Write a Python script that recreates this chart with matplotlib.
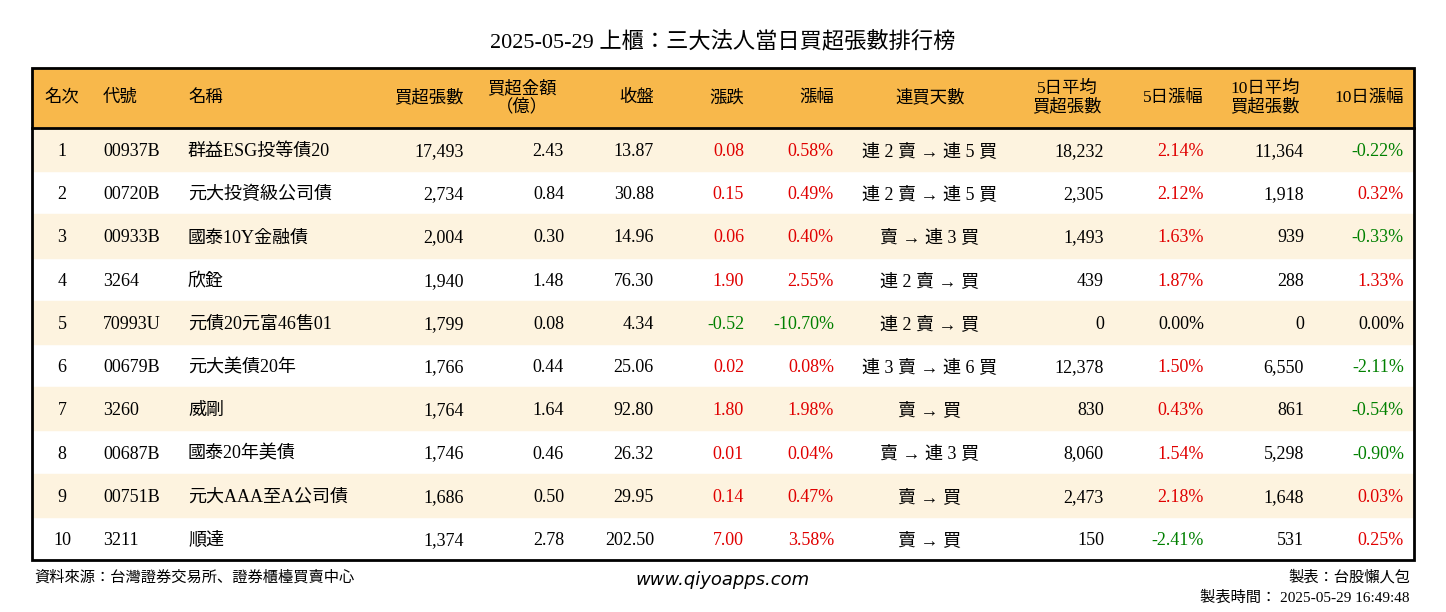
import matplotlib
matplotlib.use("Agg")
import matplotlib.pyplot as plt
from matplotlib import font_manager
from matplotlib.patches import Rectangle

cjk_names = sorted({f.name for f in font_manager.fontManager.ttflist if "CJK" in f.name})
cjk = next((n for n in ["Noto Sans CJK TC", "Noto Sans CJK JP", "Noto Sans CJK SC"] if n in cjk_names),
           cjk_names[0] if cjk_names else "DejaVu Sans")
plt.rcParams["font.family"] = ["Liberation Serif", cjk]

title = "2025-05-29 上櫃：三大法人當日買超張數排行榜"
headers = ["名次", "代號", "名稱", "買超張數", "買超金額\n（億）", "收盤", "漲跌", "漲幅",
           "連買天數", "5日平均\n買超張數", "5日漲幅", "10日平均\n買超張數", "10日漲幅"]

ranks = [1, 2, 3, 4, 5, 6, 7, 8, 9, 10]
codes = ["00937B", "00720B", "00933B", "3264", "70993U", "00679B", "3260", "00687B", "00751B", "3211"]
names = ["群益ESG投等債20", "元大投資級公司債", "國泰10Y金融債", "欣銓", "元債20元富46售01",
         "元大美債20年", "威剛", "國泰20年美債", "元大AAA至A公司債", "順達"]
net_buy = [17493, 2734, 2004, 1940, 1799, 1766, 1764, 1746, 1686, 1374]
amount = [2.43, 0.84, 0.30, 1.48, 0.08, 0.44, 1.64, 0.46, 0.50, 2.78]
close = [13.87, 30.88, 14.96, 76.30, 4.34, 25.06, 92.80, 26.32, 29.95, 202.50]
change = [0.08, 0.15, 0.06, 1.90, -0.52, 0.02, 1.80, 0.01, 0.14, 7.00]
change_pct = [0.58, 0.49, 0.40, 2.55, -10.70, 0.08, 1.98, 0.04, 0.47, 3.58]
streak = ["連 2 賣 → 連 5 買", "連 2 賣 → 連 5 買", "賣 → 連 3 買", "連 2 賣 → 買", "連 2 賣 → 買",
          "連 3 賣 → 連 6 買", "賣 → 買", "賣 → 連 3 買", "賣 → 買", "賣 → 買"]
avg5 = [18232, 2305, 1493, 439, 0, 12378, 830, 8060, 2473, 150]
pct5 = [2.14, 2.12, 1.63, 1.87, 0.00, 1.50, 0.43, 1.54, 2.18, -2.41]
avg10 = [11364, 1918, 939, 288, 0, 6550, 861, 5298, 1648, 531]
pct10 = [-0.22, 0.32, -0.33, 1.33, 0.00, -2.11, -0.54, -0.90, 0.03, 0.25]

RED, GREEN = "#e00000", "#008000"

def col(v):
    return RED if v > 0 else (GREEN if v < 0 else "black")

W, H = 1446, 612
fig = plt.figure(figsize=(W / 100, H / 100), dpi=100)
ax = fig.add_axes([0, 0, 1, 1])
ax.set_xlim(0, W)
ax.set_ylim(H, 0)
ax.axis("off")

left, right = 32, 1414
head_top, head_bot = 68, 128
row_h = 43.2

# column anchors: (x, alignment)
cols = [(62, "center"), (103, "left"), (188, "left"), (464, "right"), (564, "right"),
        (654, "right"), (744, "right"), (834, "right"), (930, "center"), (1104, "right"),
        (1204, "right"), (1304, "right"), (1404, "right")]
head_x = [(62, "center"), (103, "left"), (188, "left"), (464, "right"), (522, "center"),
          (654, "right"), (744, "right"), (834, "right"), (930, "center"), (1067, "center"),
          (1204, "right"), (1265, "center"), (1404, "right")]

ax.text(W / 2, 42, title, ha="center", va="center", fontsize=16)
ax.add_patch(Rectangle((left, head_top), right - left, head_bot - head_top, color="#f8b84b", zorder=0))
for (x, ha), h in zip(head_x, headers):
    ax.text(x, (head_top + head_bot) / 2, h, ha=ha, va="center", fontsize=12.5, linespacing=1.1)

for i in range(len(ranks)):
    y0 = head_bot + i * row_h
    yc = y0 + row_h / 2
    if i % 2 == 0:
        ax.add_patch(Rectangle((left, y0), right - left, row_h, color="#fdf3df", zorder=0))
    vals = [(str(ranks[i]), "black"), (codes[i], "black"), (names[i], "black"),
            (f"{net_buy[i]:,}", "black"), (f"{amount[i]:.2f}", "black"), (f"{close[i]:.2f}", "black"),
            (f"{change[i]:.2f}", col(change[i])), (f"{change_pct[i]:.2f}%", col(change_pct[i])),
            (streak[i], "black"), (f"{avg5[i]:,}", "black"), (f"{pct5[i]:.2f}%", col(pct5[i])),
            (f"{avg10[i]:,}", "black"), (f"{pct10[i]:.2f}%", col(pct10[i]))]
    for (x, ha), (t, c) in zip(cols, vals):
        ax.text(x, yc, t, ha=ha, va="center_baseline", fontsize=13, color=c)

bottom = head_bot + len(ranks) * row_h
ax.add_patch(Rectangle((left, head_top), right - left, bottom - head_top, fill=False, lw=2, ec="black"))
ax.plot([left, right], [head_bot, head_bot], color="black", lw=2)

ax.text(34, 577, "資料來源：台灣證券交易所、證券櫃檯買賣中心", ha="left", va="center", fontsize=11)
ax.text(723, 580, "www.qiyoapps.com", ha="center", va="center", fontsize=13, style="italic",
        family="DejaVu Sans")
ax.text(1410, 577, "製表：台股懶人包", ha="right", va="center", fontsize=11)
ax.text(1410, 598, "製表時間： 2025-05-29 16:49:48", ha="right", va="center", fontsize=11)

fig.savefig("out.png", dpi=100)
